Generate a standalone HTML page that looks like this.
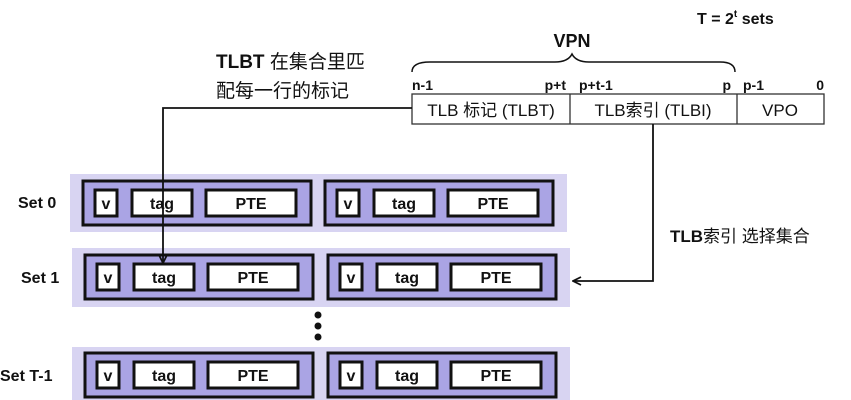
<!DOCTYPE html>
<html><head><meta charset="utf-8"><style>
html,body{margin:0;padding:0;background:#fff;overflow:hidden;width:851px;height:400px;}
svg{display:block;}
text{font-family:"Liberation Sans","Noto Sans CJK SC",sans-serif;font-weight:bold;fill:#111;}
.c{font-weight:normal;}
</style></head><body>
<svg width="851" height="400" viewBox="0 0 851 400" xmlns="http://www.w3.org/2000/svg">
<defs>
<marker id="ah" markerWidth="10" markerHeight="10" refX="9" refY="5" orient="auto" markerUnits="userSpaceOnUse">
<path d="M1,1 L9,5 L1,9" fill="none" stroke="#111" stroke-width="1.8"/>
</marker>
<g id="ln">
<rect x="0" y="0" width="228" height="44" fill="#aaa4e4" stroke="#111" stroke-width="3"/>
<rect x="12" y="9" width="22" height="26" fill="#fff" stroke="#111" stroke-width="3"/>
<text x="23" y="28" font-size="16" text-anchor="middle">v</text>
<rect x="49" y="9" width="60" height="26" fill="#fff" stroke="#111" stroke-width="3"/>
<text x="79" y="28" font-size="16" text-anchor="middle">tag</text>
<rect x="123" y="9" width="90" height="26" fill="#fff" stroke="#111" stroke-width="3"/>
<text x="168" y="28" font-size="16" text-anchor="middle">PTE</text>
</g>
</defs>

<text x="697" y="24" font-size="16">T = 2<tspan font-size="10" dy="-7">t</tspan><tspan dy="7"> sets</tspan></text>
<text x="572" y="47" font-size="18" text-anchor="middle">VPN</text>
<path d="M412,72 Q412,62 430,62 L555,62 Q568,62 572,54 Q576,62 589,62 L720,62 Q735,62 735,72" fill="none" stroke="#111" stroke-width="1.5"/>
<text x="412" y="90" font-size="14">n-1</text>
<text x="566" y="90" font-size="14" text-anchor="end">p+t</text>
<text x="579" y="90" font-size="14">p+t-1</text>
<text x="731" y="90" font-size="14" text-anchor="end">p</text>
<text x="743" y="90" font-size="14">p-1</text>
<text x="824" y="90" font-size="14" text-anchor="end">0</text>
<rect x="412" y="94" width="412" height="30" fill="#fff" stroke="#333" stroke-width="1.3"/>
<line x1="570" y1="94" x2="570" y2="124" stroke="#333" stroke-width="1.3"/>
<line x1="737" y1="94" x2="737" y2="124" stroke="#333" stroke-width="1.3"/>
<text x="491" y="116" font-size="17" class="c" text-anchor="middle">TLB 标记 (TLBT)</text>
<text x="653" y="116" font-size="17" class="c" text-anchor="middle">TLB索引 (TLBI)</text>
<text x="780" y="116" font-size="17" class="c" text-anchor="middle">VPO</text>

<text x="216" y="68" font-size="19"><tspan>TLBT</tspan><tspan class="c"> 在集合里匹</tspan></text>
<text x="216" y="97" font-size="19" class="c">配每一行的标记</text>

<rect x="70" y="174" width="497" height="58" fill="#d8d4f2"/>
<rect x="72" y="248" width="498" height="59" fill="#d8d4f2"/>
<rect x="72" y="347" width="498" height="60" fill="#d8d4f2"/>
<use href="#ln" x="83" y="181"/>
<use href="#ln" x="325" y="181"/>
<use href="#ln" x="85" y="255"/>
<use href="#ln" x="328" y="255"/>
<use href="#ln" x="85" y="353"/>
<use href="#ln" x="328" y="353"/>

<text x="18" y="208" font-size="16">Set 0</text>
<text x="21" y="283" font-size="16">Set 1</text>
<text x="0" y="381" font-size="16">Set T-1</text>

<circle cx="318" cy="315" r="3.5" fill="#111"/>
<circle cx="318" cy="326" r="3.5" fill="#111"/>
<circle cx="318" cy="337" r="3.5" fill="#111"/>

<polyline points="412,108 163,108 163,263" fill="none" stroke="#111" stroke-width="1.8" marker-end="url(#ah)"/>
<polyline points="653,124 653,281 573,281" fill="none" stroke="#111" stroke-width="1.8" marker-end="url(#ah)"/>
<text x="670" y="242" font-size="17"><tspan>TLB</tspan><tspan class="c">索引 选择集合</tspan></text>
</svg>
</body></html>
